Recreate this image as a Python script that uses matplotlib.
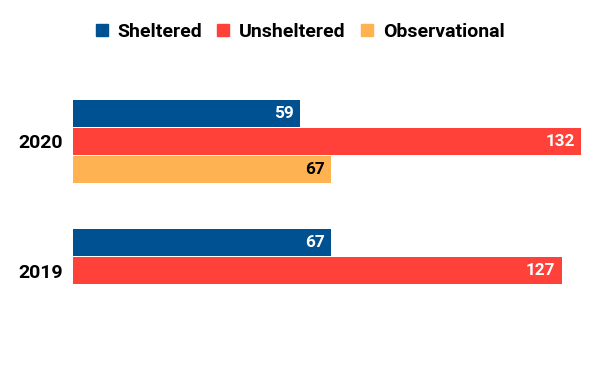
import matplotlib
matplotlib.use("Agg")
import matplotlib.pyplot as plt
from matplotlib.lines import Line2D
import numpy as np

plt.rcParams['font.family'] = ['Roboto', 'DejaVu Sans']

years = ["2020", "2019"]
series_names = ["Sheltered", "Unsheltered", "Observational"]
sheltered = [59, 67]
unsheltered = [132, 127]
observational = [67, None]
colors = ["#005192", "#FF4139", "#FFB251"]
label_colors = ["white", "white", "black"]

fig = plt.figure(figsize=(6.0, 3.77), dpi=100)
ax = fig.add_axes([73/600, 1 - 335/377, 508/600, 258/377])

slot = 28/129
barh = 27/129
ypos = np.arange(len(years))
for i, (vals, c, lc) in enumerate(zip([sheltered, unsheltered, observational], colors, label_colors)):
    off = (i - 1) * slot
    for y, v in zip(ypos, vals):
        if v is None:
            continue
        ax.barh(y + off, v, height=barh, color=c, linewidth=0)
        ax.annotate(str(v), xy=(v, y + off), xytext=(-4.6, 0), textcoords='offset points',
                    ha='right', va='center', color=lc, fontsize=12.3, fontweight='bold')

ax.set_xlim(0, 132)
ax.set_ylim(1.5, -0.5)
ax.set_yticks(ypos)
ax.set_yticklabels(years, fontsize=14, fontweight='bold')
ax.tick_params(axis='y', length=0, pad=7.5)
ax.set_xticks([])
for s in ax.spines.values():
    s.set_visible(False)

handles = [Line2D([], [], marker='s', linestyle='none', markersize=8, color=c) for c in colors]
fig.legend(handles, series_names, loc='center', bbox_to_anchor=(0.5, 1 - 32/377), ncol=3,
           frameon=False, prop={'weight': 'bold', 'size': 14}, handlelength=0.65,
           handletextpad=0.5, columnspacing=0.75, borderaxespad=0)

fig.savefig("out.png", dpi=100)
